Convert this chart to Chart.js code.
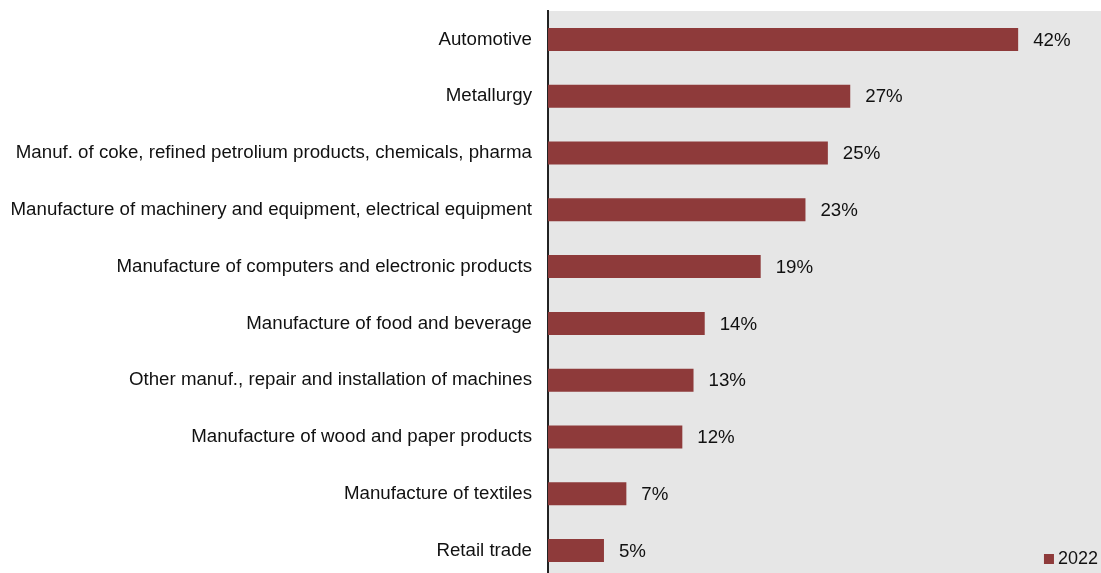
<!DOCTYPE html>
<html lang="en">
<head>
  <meta charset="UTF-8">
  <title>Share by sector, 2022</title>
  <style>
    html, body {
      margin: 0;
      padding: 0;
      background: #fff;
      overflow: hidden;
    }
    .chart-box {
      position: relative;
      width: 1101px;
      height: 580px;
    }
  </style>
  <script src="https://cdn.jsdelivr.net/npm/chart.js"></script>
</head>
<body>
  <div class="chart-box">
    <canvas id="sectorChart"></canvas>
  </div>

  <script>
    const sectors = [
      "Automotive",
      "Metallurgy",
      "Manuf. of coke, refined petrolium products, chemicals, pharma",
      "Manufacture of machinery and equipment, electrical equipment",
      "Manufacture of computers and electronic products",
      "Manufacture of food and beverage",
      "Other manuf., repair and installation of machines",
      "Manufacture of wood and paper products",
      "Manufacture of textiles",
      "Retail trade"
    ];
    const shares2022 = [42, 27, 25, 23, 19, 14, 13, 12, 7, 5];
    const seriesName = "2022";

    const barColor = "#8e3a3a";
    const font = { family: "Arial, 'Liberation Sans', sans-serif", size: 18.7 };

    // grey plot background
    const plotBackground = {
      id: "plotBackground",
      beforeDraw(chart) {
        const { ctx, chartArea: a } = chart;
        ctx.save();
        ctx.fillStyle = "#e6e6e6";
        ctx.fillRect(a.left, a.top, a.right - a.left, a.bottom - a.top);
        ctx.restore();
      }
    };

    // percentage labels after each bar, plus the small legend in the corner
    const barLabels = {
      id: "barLabels",
      afterDatasetsDraw(chart) {
        const { ctx } = chart;
        const meta = chart.getDatasetMeta(0);
        ctx.save();
        ctx.font = font.size + "px " + font.family;
        ctx.fillStyle = "#111";
        ctx.textBaseline = "middle";
        ctx.textAlign = "left";
        meta.data.forEach((bar, i) => {
          ctx.fillText(chart.data.datasets[0].data[i] + "%", bar.x + 15, bar.y + 1);
        });

        ctx.font = "18px " + font.family;
        const label = chart.data.datasets[0].label;
        const w = ctx.measureText(label).width;
        const x = chart.chartArea.right - 3 - w;
        const y = 559;
        ctx.fillText(label, x, y);
        ctx.fillStyle = barColor;
        ctx.fillRect(x - 14, y - 5, 10, 10);
        ctx.restore();
      }
    };

    new Chart(document.getElementById("sectorChart"), {
      type: "bar",
      data: {
        labels: sectors,
        datasets: [{
          label: seriesName,
          data: shares2022,
          backgroundColor: barColor,
          borderWidth: 0,
          barPercentage: 0.405,
          categoryPercentage: 1
        }]
      },
      options: {
        indexAxis: "y",
        responsive: true,
        maintainAspectRatio: false,
        animation: false,
        layout: { padding: { top: 11, right: 0, bottom: 1, left: 0 } },
        plugins: {
          legend: { display: false },
          tooltip: { enabled: false }
        },
        scales: {
          x: {
            display: false,
            min: 0,
            max: 49.4
          },
          y: {
            grid: { display: false, drawTicks: false },
            border: { display: true, color: "#222", width: 2 },
            ticks: {
              color: "#111",
              font: font,
              padding: 16
            },
            afterFit(scale) {
              scale.width = 548;
              // keep the label padding horizontal only
              scale.paddingTop = 0;
              scale.paddingBottom = 0;
            }
          }
        }
      },
      plugins: [plotBackground, barLabels]
    });
  </script>
</body>
</html>
